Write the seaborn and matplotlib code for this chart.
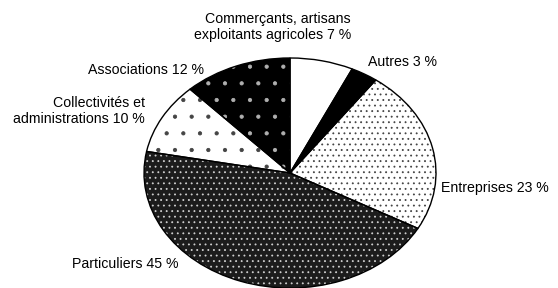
import matplotlib
matplotlib.use("Agg")
import matplotlib.pyplot as plt
import seaborn as sns

categories = ["Commerçants, artisans\nexploitants agricoles", "Autres", "Entreprises",
              "Particuliers", "Collectivités et\nadministrations", "Associations"]
values = [7, 3, 23, 45, 10, 12]
labels = [f"{c} {v} %" for c, v in zip(categories, values)]

sns.set_theme(style="white")
plt.rcParams['font.family'] = ['Liberation Sans', 'DejaVu Sans']
plt.rcParams['hatch.linewidth'] = 0.6

W, H = 558, 288
fig = plt.figure(figsize=(W / 100, H / 100), dpi=100)
ax = fig.add_axes([0, 0, 1, 1])

faces = ["white", "black", "white", "#1c1c1c", "white", "black"]
hatch_cols = ["white", "black", "#444444", "#cfcfcf", "#444444", "#b0b0b0"]
hatches = [None, None, "...", "...", ".", "."]

wedges, _ = ax.pie(values, startangle=90, counterclock=False, radius=1,
                   center=(0, 0), wedgeprops=dict(linewidth=0))
for w, fc, hc, h in zip(wedges, faces, hatch_cols, hatches):
    w.set_facecolor(fc)
    w.set_edgecolor(hc)
    w.set_linewidth(0)
    if h:
        w.set_hatch(h)

ax.pie(values, startangle=90, counterclock=False, radius=1, center=(0, 0),
       wedgeprops=dict(facecolor="none", edgecolor="black", linewidth=1.0))

# pixel geometry of ellipse
cx, cy, rx, ry = 290, 173, 146, 115
ax.set_aspect("auto")
ax.set_xlim((0 - cx) / rx, (W - cx) / rx)
ax.set_ylim((cy - H) / ry, cy / ry)
ax.axis("off")

def px(x, y):
    return (x - cx) / rx, (cy - y) / ry

fs = 10.2
pos = [
    (351, 27, "right"),
    (368, 62, "left"),
    (441, 188, "left"),
    (179, 264, "right"),
    (145, 111, "right"),
    (204, 70, "right"),
]
for lab, (x, y, ha) in zip(labels, pos):
    ax.text(*px(x, y), lab, ha=ha, va="center", fontsize=fs, color="black",
            linespacing=1.1)

fig.savefig("out.png", dpi=100)
